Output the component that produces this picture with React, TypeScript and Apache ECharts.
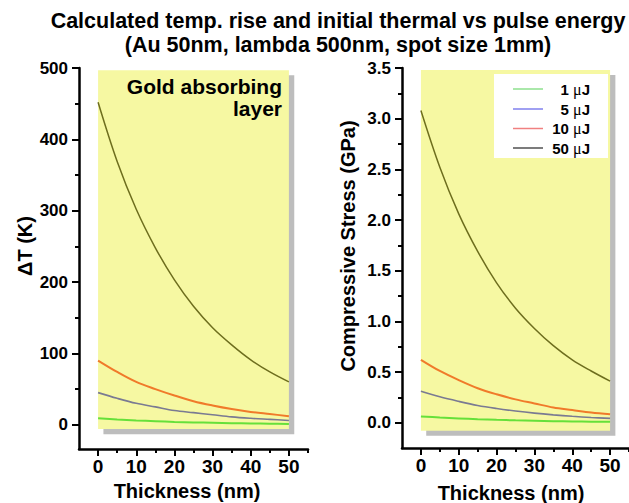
import React, { useEffect, useRef } from "react";
import * as echarts from "echarts";

// ---- data ----
const thickness = [0, 5, 10, 15, 20, 25, 30, 35, 40, 45, 50];

const dT_1uJ = [9, 7.4, 6.0, 5.0, 4.0, 3.3, 2.7, 2.2, 1.8, 1.5, 1.2];
const dT_5uJ = [45, 37, 30, 25, 20, 17, 14, 11, 9, 7.5, 6];
const dT_10uJ = [90, 74, 60, 50, 41, 33, 27, 22, 18, 15, 12];
const dT_50uJ = [452, 369, 302, 248, 203, 166, 136, 112, 91, 74, 60];

const stress_1uJ = [0.062, 0.051, 0.042, 0.034, 0.028, 0.023, 0.019, 0.015, 0.0125, 0.01, 0.008];
const stress_5uJ = [0.31, 0.255, 0.21, 0.17, 0.14, 0.115, 0.094, 0.077, 0.063, 0.051, 0.042];
const stress_10uJ = [0.62, 0.51, 0.42, 0.34, 0.28, 0.23, 0.19, 0.15, 0.125, 0.1, 0.083];
const stress_50uJ = [3.08, 2.52, 2.06, 1.69, 1.38, 1.13, 0.93, 0.76, 0.62, 0.51, 0.41];

const energyLabels = ["1", "5", "10", "50"];

const xMajorTicks = [0, 10, 20, 30, 40, 50];
const xMinorTicks = [5, 15, 25, 35, 45, 55];
const dTMajorTicks = [0, 100, 200, 300, 400, 500];
const dTMinorTicks = [50, 150, 250, 350, 450];
const stressMajorTicks = [0, 0.5, 1.0, 1.5, 2.0, 2.5, 3.0, 3.5];
const stressMinorTicks = [0.25, 0.75, 1.25, 1.75, 2.25, 2.75, 3.25];

// ---- styling ----
const FONT = "'Liberation Sans', Arial, sans-serif";
const lineColors = ["#66e03a", "#7a7a92", "#f07a2a", "#6e6e1e"];
const lineWidths = [2, 1.6, 2, 1.5];
const legendColors = ["#8ee08e", "#8080ee", "#f08080", "#505050"];
const panelColor = "#f6f8a2";
const shadowColor = "#bdbdbd";

const pair = (ys: number[]) => thickness.map((x, i) => [x, ys[i]]);

function xAxes(grid: number) {
  const common = {
    type: "value" as const,
    gridIndex: grid,
    min: -5,
    max: 55,
    position: "bottom" as const,
    splitLine: { show: false },
  };
  return [
    {
      ...common,
      axisLine: { show: true, onZero: false, lineStyle: { color: "#000000", width: 2.5, opacity: 1 } },
      axisTick: { show: true, length: 7, customValues: xMajorTicks, lineStyle: { color: "#000000", width: 2 } },
      axisLabel: {
        customValues: xMajorTicks,
        fontSize: 19,
        fontWeight: "bold",
        color: "#000000",
        fontFamily: FONT,
        margin: 8,
      },
    },
    {
      ...common,
      axisLine: { show: false, onZero: false },
      axisTick: { show: true, length: 4, customValues: xMinorTicks, lineStyle: { color: "#000000", width: 2 } },
      axisLabel: { show: false },
    },
  ];
}

function yAxes(grid: number, min: number, max: number, major: number[], minor: number[], fmt: (v: number) => string) {
  const common = {
    type: "value" as const,
    gridIndex: grid,
    min,
    max,
    position: "left" as const,
    splitLine: { show: false },
  };
  return [
    {
      ...common,
      axisLine: { show: true, onZero: false, lineStyle: { color: "#000000", width: 2.5, opacity: 1 } },
      axisTick: { show: true, length: 7, customValues: major, lineStyle: { color: "#000000", width: 2 } },
      axisLabel: {
        customValues: major,
        formatter: fmt,
        fontSize: 17,
        fontWeight: "bold",
        color: "#000000",
        fontFamily: FONT,
        margin: 11,
      },
    },
    {
      ...common,
      axisLine: { show: false, onZero: false },
      axisTick: { show: true, length: 4, customValues: minor, lineStyle: { color: "#000000", width: 2 } },
      axisLabel: { show: false },
    },
  ];
}

function areaSeries(xi: number, yi: number, x0: number, x1: number, top: number, bottom: number, color: string, z: number) {
  return {
    type: "line",
    xAxisIndex: xi,
    yAxisIndex: yi,
    data: [],
    silent: true,
    z,
    markArea: {
      silent: true,
      itemStyle: { color, opacity: 1 },
      data: [[{ coord: [x0, top] }, { coord: [x1, bottom] }]],
    },
  };
}

function curves(xi: number, yi: number, sets: number[][]) {
  return sets.map((ys, i) => ({
    type: "line",
    name: energyLabels[i] + " μJ",
    xAxisIndex: xi,
    yAxisIndex: yi,
    data: pair(ys),
    smooth: 0.35,
    showSymbol: false,
    symbol: "none",
    z: 3,
    lineStyle: { color: lineColors[i], width: lineWidths[i] },
    itemStyle: { color: lineColors[i] },
  }));
}

const legendRows = [89, 109, 128.5, 148];

const legendGraphics = [
  {
    type: "rect",
    shape: { x: 494, y: 74, width: 114, height: 84 },
    style: { fill: "#ffffff" },
    z: 10,
  },
  ...energyLabels.flatMap((lab, i) => [
    {
      type: "line",
      shape: { x1: 513, y1: legendRows[i], x2: 543, y2: legendRows[i] },
      style: { stroke: legendColors[i], lineWidth: 1.5 },
      z: 11,
    },
    {
      type: "text",
      x: 590,
      y: legendRows[i],
      z: 11,
      style: {
        text: `{n|${lab} }{m|μ}{n|J}`,
        align: "right",
        verticalAlign: "middle",
        rich: {
          n: { fontFamily: FONT, fontWeight: "bold", fontSize: 15, fill: "#000" },
          m: { fontFamily: "'Liberation Serif', serif", fontSize: 16, fill: "#000" },
        },
      },
    },
  ]),
];

const option = {
  animation: false,
  backgroundColor: "#ffffff",
  title: {
    text: "Calculated temp. rise and initial thermal vs pulse energy\n(Au 50nm, lambda 500nm, spot size 1mm)",
    left: 333,
    top: 4,
    textAlign: "center",
    textStyle: { fontFamily: FONT, fontWeight: "bold", fontSize: 21.5, lineHeight: 24, color: "#000" },
  },
  grid: [
    { left: 79, top: 68, width: 229, height: 381 },
    { left: 402, top: 68, width: 230, height: 380 },
  ],
  xAxis: [...xAxes(0), ...xAxes(1)],
  yAxis: [
    ...yAxes(0, -34, 500, dTMajorTicks, dTMinorTicks, (v: number) => String(v)),
    ...yAxes(1, -0.25, 3.5, stressMajorTicks, stressMinorTicks, (v: number) => v.toFixed(1)),
  ],
  series: [
    areaSeries(0, 0, 1.4, 51.4, 490, -13.5, shadowColor, 0),
    areaSeries(0, 0, 0, 50, 497, -6, panelColor, 1),
    ...curves(0, 0, [dT_1uJ, dT_5uJ, dT_10uJ, dT_50uJ]),
    areaSeries(2, 2, 1.4, 51.4, 3.43, -0.13, shadowColor, 0),
    areaSeries(2, 2, 0, 50, 3.48, -0.08, panelColor, 1),
    ...curves(2, 2, [stress_1uJ, stress_5uJ, stress_10uJ, stress_50uJ]),
  ],
  graphic: [
    {
      type: "text",
      x: 282,
      y: 75,
      z: 10,
      style: {
        text: "Gold absorbing\nlayer",
        align: "right",
        verticalAlign: "top",
        font: `bold 21px ${FONT}`,
        lineHeight: 22,
        fill: "#000",
      },
    },
    {
      type: "text",
      x: 25,
      y: 246,
      rotation: Math.PI / 2,
      style: { text: "ΔT (K)", align: "center", verticalAlign: "middle", font: `bold 20px ${FONT}`, fill: "#000" },
    },
    {
      type: "text",
      x: 348,
      y: 246,
      rotation: Math.PI / 2,
      style: {
        text: "Compressive Stress (GPa)",
        align: "center",
        verticalAlign: "middle",
        font: `bold 20px ${FONT}`,
        fill: "#000",
      },
    },
    {
      type: "text",
      x: 187,
      y: 491,
      style: { text: "Thickness (nm)", align: "center", verticalAlign: "middle", font: `bold 20px ${FONT}`, fill: "#000" },
    },
    {
      type: "text",
      x: 511,
      y: 493,
      style: { text: "Thickness (nm)", align: "center", verticalAlign: "middle", font: `bold 20px ${FONT}`, fill: "#000" },
    },
    ...legendGraphics,
  ],
};

export default function App() {
  const ref = useRef<HTMLDivElement>(null);
  useEffect(() => {
    if (!ref.current) return;
    const chart = echarts.init(ref.current, null, { renderer: "svg" });
    chart.setOption(option as any);
    return () => chart.dispose();
  }, []);
  return <div ref={ref} style={{ position: "fixed", left: 0, top: 0, width: 629, height: 503 }} />;
}
